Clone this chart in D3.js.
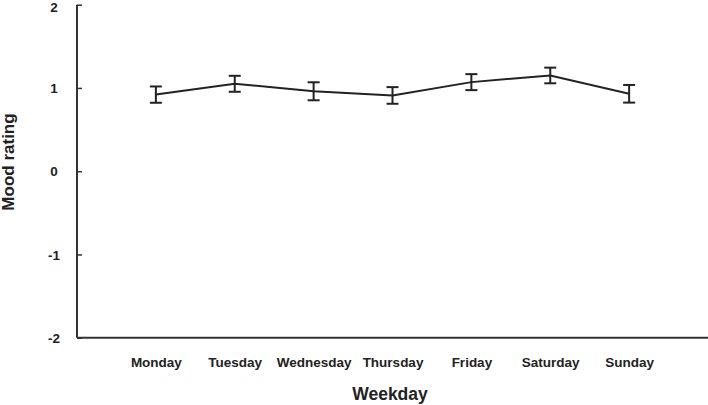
<!DOCTYPE html>
<html>
<head>
<meta charset="utf-8">
<script src="https://cdn.jsdelivr.net/npm/d3@7"></script>
<style>
  body { margin: 0; background: #fff; }
  text { font-family: "Liberation Sans", Arial, sans-serif; font-weight: bold; fill: #222; }
</style>
</head>
<body>
<div id="chart"></div>
<script>
  const days = ["Monday", "Tuesday", "Wednesday", "Thursday", "Friday", "Saturday", "Sunday"];
  const mood = [0.92, 1.05, 0.96, 0.91, 1.07, 1.15, 0.93];
  const errs = [0.098, 0.096, 0.108, 0.10, 0.096, 0.094, 0.106];
  const yTicks = [-2, -1, 0, 1, 2];

  const W = 708, H = 405;
  const plotLeft = 77, plotRight = 708, plotTop = 4.7, plotBottom = 337.7;

  const svg = d3.select("#chart")
    .append("svg")
    .attr("width", W)
    .attr("height", H);

  const x = d3.scalePoint()
    .domain(days)
    .range([plotLeft, plotRight])
    .padding(1);

  const y = d3.scaleLinear()
    .domain([-2, 2])
    .range([plotBottom, plotTop]);

  // y axis, ticks point inward, plain hyphen for negatives
  const yAxis = svg.append("g")
    .attr("transform", `translate(${plotLeft},0)`)
    .call(d3.axisRight(y).tickValues(yTicks).tickSize(5).tickFormat(d => String(d)));
  yAxis.select(".domain").attr("stroke", "#333").attr("stroke-width", 2).attr("d", `M0,${plotTop}V${plotBottom}`);
  yAxis.selectAll(".tick line").attr("stroke", "#333").attr("stroke-width", 1.5);
  yAxis.selectAll(".tick text")
    .attr("x", -23)
    .attr("dy", d => d === 2 ? "0.48em" : "0.34em")
    .attr("text-anchor", "middle")
    .style("font-size", "13.5px")
    .style("font-family", "'Liberation Sans', Arial, sans-serif")
    .style("font-weight", "bold")
    .attr("fill", "#222");

  // x axis
  const xAxis = svg.append("g")
    .attr("transform", `translate(0,${plotBottom})`)
    .call(d3.axisBottom(x).tickSize(0).tickPadding(20));
  xAxis.select(".domain").attr("stroke", "#333").attr("stroke-width", 2).attr("d", `M${plotLeft},0H${plotRight}`);
  xAxis.selectAll(".tick text")
    .style("font-size", "13.5px")
    .style("font-family", "'Liberation Sans', Arial, sans-serif")
    .style("font-weight", "bold")
    .attr("fill", "#222");

  const data = days.map((d, i) => ({ day: d, v: mood[i], e: errs[i] }));

  const line = d3.line()
    .x(d => x(d.day))
    .y(d => y(d.v));

  svg.append("path")
    .datum(data)
    .attr("fill", "none")
    .attr("stroke", "#222")
    .attr("stroke-width", 2)
    .attr("d", line);

  const bars = svg.selectAll(".err")
    .data(data)
    .enter()
    .append("g")
    .attr("class", "err")
    .attr("stroke", "#222")
    .attr("stroke-width", 2);

  bars.append("line")
    .attr("x1", d => x(d.day)).attr("x2", d => x(d.day))
    .attr("y1", d => y(d.v - d.e)).attr("y2", d => y(d.v + d.e));
  bars.append("line")
    .attr("x1", d => x(d.day) - 6).attr("x2", d => x(d.day) + 6)
    .attr("y1", d => y(d.v - d.e)).attr("y2", d => y(d.v - d.e));
  bars.append("line")
    .attr("x1", d => x(d.day) - 6).attr("x2", d => x(d.day) + 6)
    .attr("y1", d => y(d.v + d.e)).attr("y2", d => y(d.v + d.e));

  // axis titles
  svg.append("text")
    .attr("x", 390)
    .attr("y", 400)
    .attr("text-anchor", "middle")
    .style("font-size", "17.5px")
    .text("Weekday");

  svg.append("text")
    .attr("transform", "translate(14,162) rotate(-90)")
    .attr("text-anchor", "middle")
    .style("font-size", "17px")
    .text("Mood rating");
</script>
</body>
</html>
